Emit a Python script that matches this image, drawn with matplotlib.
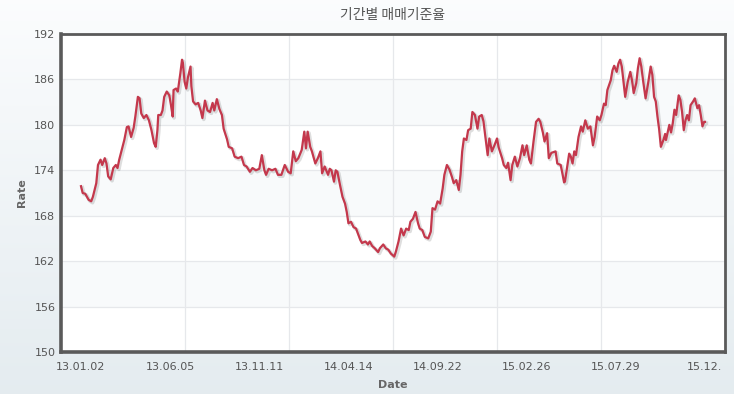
import numpy as np
import matplotlib
matplotlib.use("Agg")
import matplotlib.pyplot as plt
import matplotlib.patheffects as pe

# ---- data (trading-day index since 13.01.02, rate) ----
day_index = [0, 2, 5, 9, 12, 14, 18, 20, 23, 25, 28, 30, 32, 35, 38, 41, 43, 45, 48, 51,
             54, 56, 59, 62, 64, 67, 69, 71, 74, 77, 80, 83, 86, 88, 90, 91, 94, 96, 98, 101,
             104, 106, 108, 109, 112, 114, 117, 119, 120, 122, 124, 126, 129, 130, 132, 135, 138, 141, 143, 146,
             149, 152, 155, 157, 160, 163, 166, 168, 172, 174, 178, 181, 185, 189, 192, 195, 199, 202, 206, 210,
             213, 216, 218, 221, 225, 229, 232, 236, 240, 244, 247, 250, 253, 256, 260, 263, 265, 267, 270, 272,
             276, 279, 282, 284, 287, 291, 293, 295, 298, 300, 302, 305, 308, 311, 313, 315, 318, 321, 324, 326,
             329, 331, 335, 338, 340, 343, 346, 350, 352, 356, 359, 362, 365, 369, 371, 374, 377, 380, 383, 386,
             388, 391, 394, 397, 399, 402, 405, 409, 412, 414, 417, 420, 423, 426, 428, 431, 434, 437, 439, 442,
             445, 447, 449, 451, 454, 456, 459, 461, 464, 467, 469, 472, 474, 477, 479, 481, 484, 487, 490, 492,
             496, 498, 501, 503, 506, 508, 511, 514, 517, 520, 522, 525, 528, 530, 533, 536, 539, 541, 544, 546,
             549, 551, 554, 559, 561, 565, 567, 569, 570, 572, 575, 577, 579, 581, 583, 586, 589, 591, 594, 597,
             600, 603, 605, 608, 611, 613, 616, 618, 620, 624, 626, 628, 631, 633, 635, 637, 639, 641, 644, 647,
             649, 651, 654, 656, 658, 660, 662, 665, 668, 671, 673, 675, 677, 679, 681, 683, 686, 688, 689, 691,
             693, 695, 697, 699, 701, 704, 706, 708, 710, 712, 714, 716, 718, 721, 723, 726, 728, 730, 732, 734,
             735]
rate = [171.9, 171.0, 170.9, 170.1, 169.9, 170.5, 172.3, 174.7, 175.4, 174.7, 175.6, 174.9, 173.2, 172.8, 174.3, 174.7, 174.3, 175.4, 176.7, 178.0,
        179.7, 179.8, 178.4, 179.6, 181.1, 183.7, 183.5, 181.5, 180.9, 181.3, 180.6, 179.3, 177.6, 177.1, 179.3, 181.3, 181.3, 181.9, 183.7, 184.4,
        183.9, 182.6, 181.1, 184.6, 184.8, 184.4, 186.8, 188.6, 188.2, 185.7, 184.8, 186.3, 187.7, 185.1, 183.1, 182.7, 182.9, 181.9, 180.9, 183.2,
        181.9, 181.7, 182.9, 181.9, 183.4, 182.1, 181.3, 179.5, 178.1, 177.1, 176.9, 175.8, 175.6, 175.8, 174.7, 174.5, 173.8, 174.3, 174.0, 174.2,
        176.0, 174.0, 173.4, 174.2, 174.0, 174.2, 173.4, 173.4, 174.7, 173.8, 173.6, 176.5, 175.2, 175.6, 176.7, 179.1, 176.9, 179.1, 177.1, 176.5,
        174.9, 175.6, 176.5, 173.6, 174.5, 173.4, 174.2, 174.0, 172.5, 174.0, 173.8, 172.1, 170.5, 169.6, 168.5, 167.0, 167.2, 166.5, 166.3, 165.7,
        164.8, 164.4, 164.6, 164.2, 164.6, 164.0, 163.7, 163.2, 163.7, 164.2, 163.7, 163.5, 163.0, 162.6, 163.3, 164.6, 166.3, 165.4, 166.3, 166.1,
        167.2, 167.6, 168.5, 167.0, 166.3, 166.1, 165.2, 165.0, 165.9, 169.0, 168.8, 169.9, 169.6, 171.6, 173.4, 174.7, 174.1, 173.1, 172.3, 172.7,
        171.4, 173.4, 176.5, 178.2, 178.0, 179.3, 179.5, 181.7, 181.3, 179.5, 181.1, 181.3, 180.5, 177.8, 176.0, 178.2, 176.5, 177.3, 178.2, 177.0,
        175.6, 174.7, 174.3, 175.0, 172.7, 174.7, 175.8, 174.5, 175.6, 177.3, 176.0, 177.3, 175.4, 174.9, 177.8, 180.4, 180.8, 180.4, 179.0, 177.8,
        178.9, 175.6, 176.3, 176.5, 174.9, 174.7, 173.6, 172.4, 172.5, 174.0, 176.2, 175.8, 174.9, 176.5, 176.0, 178.4, 179.8, 179.1, 180.6, 179.5,
        179.8, 177.3, 178.4, 181.1, 180.6, 181.3, 182.8, 182.6, 184.6, 185.9, 187.2, 187.8, 187.0, 188.1, 188.6, 187.7, 185.7, 183.7, 185.7, 187.0,
        185.9, 184.2, 185.5, 187.5, 188.8, 187.7, 185.9, 183.5, 185.5, 187.7, 186.6, 183.7, 183.1, 181.1, 179.4, 177.1, 178.0, 178.8, 178.0, 179.0,
        180.0, 179.0, 180.2, 182.0, 181.3, 183.9, 183.3, 181.7, 179.3, 180.6, 181.3, 180.6, 182.6, 183.1, 183.5, 182.2, 182.6, 181.3, 179.8, 180.4,
        180.4]

tick_labels = ["13.01.02", "13.06.05", "13.11.11", "14.04.14", "14.09.22", "15.02.26", "15.07.29", "15.12."]
tick_step = 105
y_ticks = [150, 156, 162, 168, 174, 180, 186, 192]
title = "기간별 매매기준율"

W, H = 734, 394
fig = plt.figure(figsize=(W / 100, H / 100), dpi=100)

# gradient background
bg = fig.add_axes([0, 0, 1, 1], zorder=-10)
grad = np.linspace(0, 1, 256).reshape(-1, 1)
top = np.array([0.985, 0.99, 0.995])
bot = np.array([0.895, 0.925, 0.94])
img = top[None, None, :] * (1 - grad[:, :, None]) + bot[None, None, :] * grad[:, :, None]
bg.imshow(img, aspect="auto", extent=[0, 1, 0, 1])
bg.axis("off")

L, R, T, B = 61, 725, 34, 352
ax = fig.add_axes([L / W, 1 - B / H, (R - L) / W, (B - T) / H])
ax.set_facecolor("white")

n_last = day_index[-1]
pad = 20 * n_last / 624
ax.set_xlim(-pad, n_last + pad)
ax.set_ylim(150, 192)

# alternate bands
for lo in [156, 168, 180]:
    ax.axhspan(lo, lo + 6, color="#f8fafb", zorder=0, lw=0)

# grid lines
for yv in y_ticks[1:-1]:
    ax.axhline(yv, color="#e6e8eb", lw=0.9, zorder=1)
for k in range(1, 6):
    ax.axvline(n_last * k / 6, color="#e6e8eb", lw=0.9, zorder=1)

ax.plot(day_index, rate, color="#c4384c", lw=1.6, zorder=3, solid_joinstyle="round",
        path_effects=[pe.SimpleLineShadow(offset=(1.0, -1.0), shadow_color="black", alpha=0.13, linewidth=2.6),
                      pe.Normal()])

ax.set_yticks(y_ticks)
ax.set_yticklabels([str(v) for v in y_ticks])
xt = [i * tick_step for i in range(len(tick_labels))]
ax.set_xticks(xt)
ax.set_xticklabels(tick_labels)
ax.tick_params(axis="both", length=0, labelsize=8, colors="#555555")
ax.tick_params(axis="x", pad=7)
ax.tick_params(axis="y", pad=4)

for s in ["left", "bottom"]:
    ax.spines[s].set_linewidth(2.6)
    ax.spines[s].set_color("#5a5a5a")
for s in ["top", "right"]:
    ax.spines[s].set_linewidth(2.0)
    ax.spines[s].set_color("#5a5a5a")

ax.set_ylabel("Rate", fontsize=8, fontweight="bold", color="#666666", labelpad=5)
ax.set_xlabel("Date", fontsize=8, fontweight="bold", color="#666666", labelpad=6)

fig.text((L + R) / 2 / W, 1 - 15 / H, title, ha="center", va="center", fontsize=10,
         color="#555555", family=["Noto Sans CJK KR", "DejaVu Sans"])

fig.savefig("out.png", dpi=100)
